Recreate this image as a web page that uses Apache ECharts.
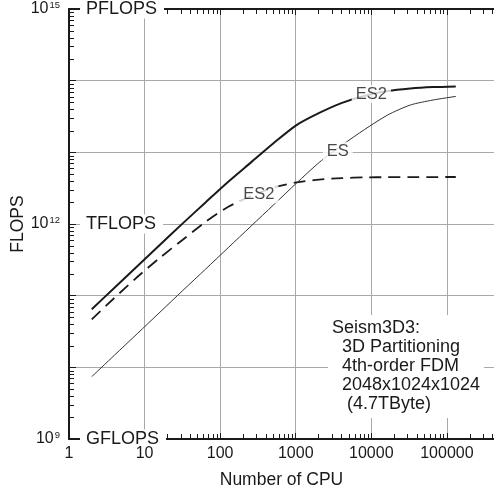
<!DOCTYPE html>
<html>
<head>
<meta charset="utf-8">
<script src="https://cdn.jsdelivr.net/npm/echarts@6/dist/echarts.min.js"></script>
<style>
  html, body { margin: 0; padding: 0; background: #fff; }
  #chart { width: 494px; height: 494px; }
</style>
</head>
<body>
<div id="chart"></div>
<script>
// ---------------- data ----------------
const cpuCounts = [2, 4, 8, 16, 32, 64, 128, 256, 512, 1024, 2048, 4096, 8192, 16384, 32768, 65536, 131072];
const es2Solid  = [6.46e10, 1.29e11, 2.57e11, 5.13e11, 1.02e12, 2.0e12, 3.89e12, 7.24e12, 1.35e13, 2.40e13, 3.55e13, 4.90e13, 6.17e13, 7.16e13, 7.76e13, 8.13e13, 8.32e13];
const es2Dashed = [4.68e10, 9.33e10, 1.82e11, 3.39e11, 6.03e11, 1.07e12, 1.74e12, 2.45e12, 3.24e12, 3.80e12, 4.17e12, 4.37e12, 4.47e12, 4.50e12, 4.52e12, 4.52e12, 4.53e12];
const esThin    = [7.41e9, 1.48e10, 2.95e10, 5.89e10, 1.18e11, 2.34e11, 4.68e11, 9.33e11, 1.86e12, 3.72e12, 7.24e12, 1.26e13, 2.09e13, 3.31e13, 4.57e13, 5.37e13, 6.03e13];

const curveLabels     = ['ES2', 'ES', 'ES2'];
const curveLabelCpu   = [10000, 3600, 326];
const curveLabelFlops = [6.5e13, 1.04e13, 2.6e12];

const xTickLabels = ['1', '10', '100', '1000', '10000', '100000'];
const yTickExponents = [9, 12, 15];
const unitLabels = ['GFLOPS', 'TFLOPS', 'PFLOPS'];
const noteLines = ['Seism3D3:', '  3D Partitioning', '  4th-order FDM', '  2048x1024x1024', '   (4.7TByte)'];

const X_MIN = 1, X_MAX = 4.2e5, Y_MIN = 1e9, Y_MAX = 1e15;
const FONT = '"Liberation Sans", Arial, sans-serif';
const INK = '#1a1a1a';
const GRID = '#a8a8a8';

// minor tick positions (2..9 x 10^k)
const minorMultipliers = [2, 3, 4, 5, 6, 7, 8, 9];
const xMinor = [];
for (let k = 0; k <= 5; k++) for (const m of minorMultipliers) { const v = m * Math.pow(10, k); if (v < X_MAX) xMinor.push([v, Y_MIN]); }
const yMinor = [];
for (let k = 9; k < 15; k++) for (const m of minorMultipliers) yMinor.push([X_MIN, m * Math.pow(10, k)]);

function decadeExp(v) {
  const l = Math.log10(v); const e = Math.round(l);
  return Math.abs(l - e) < 1e-6 ? e : null;
}
const pairs = (ys) => cpuCounts.map((c, i) => [c, ys[i]]);

const chart = echarts.init(document.getElementById('chart'), null, { renderer: 'canvas' });
const option = {
  animation: false,
  backgroundColor: '#fff',
  textStyle: { fontFamily: FONT, color: INK },
  grid: { left: 69, right: 0, top: 9, bottom: 55, outerBoundsMode: 'none', containLabel: false },
  xAxis: [
    {
      type: 'log', min: X_MIN, max: X_MAX, position: 'bottom',
      axisLine: { show: true, onZero: false, lineStyle: { color: INK, width: 2 } },
      axisTick: { show: true, inside: true, length: 6, lineStyle: { color: INK } },
      axisLabel: { show: false },
      splitLine: { show: true, lineStyle: { color: GRID, width: 1 } },
      name: 'Number of CPU', nameLocation: 'middle', nameGap: 32, nameMoveOverlap: false,
      nameTextStyle: { fontSize: 17.5, color: INK, fontFamily: FONT }
    },
    {
      type: 'log', min: X_MIN, max: X_MAX, position: 'top',
      axisLine: { show: true, onZero: false, lineStyle: { color: INK, width: 2 } },
      axisTick: { show: true, inside: true, length: 6, lineStyle: { color: INK } },
      axisLabel: { show: false }, splitLine: { show: false }
    },
    {
      type: 'log', min: X_MIN, max: X_MAX, position: 'bottom', z: 12,
      axisLine: { show: false, onZero: false }, axisTick: { show: false }, splitLine: { show: false },
      axisLabel: {
        margin: 7, fontSize: 16, color: INK, fontFamily: FONT,
        formatter: (v) => { const e = decadeExp(v); return (e !== null && e >= 0 && e < xTickLabels.length) ? xTickLabels[e] : ''; }
      }
    }
  ],
  yAxis: [
    {
      type: 'log', min: Y_MIN, max: Y_MAX, position: 'left',
      axisLine: { show: true, onZero: false, lineStyle: { color: INK, width: 2 } },
      axisTick: { show: true, inside: true, length: 7, lineStyle: { color: INK } },
      axisLabel: {
        margin: 9, fontSize: 16, color: INK, fontFamily: FONT,
        formatter: (v) => { const e = decadeExp(v); return (e !== null && yTickExponents.indexOf(e) >= 0) ? '{b|10}{s|' + e + '}' : ''; },
        rich: {
          b: { fontSize: 16, lineHeight: 18, color: INK, fontFamily: FONT },
          s: { fontSize: 9.5, lineHeight: 8, verticalAlign: 'top', color: INK, fontFamily: FONT, padding: [0, 0, 0, 1] }
        }
      },
      splitLine: { show: true, lineStyle: { color: GRID, width: 1 } },
      name: 'FLOPS', nameLocation: 'middle', nameGap: 42, nameMoveOverlap: false,
      nameTextStyle: { fontSize: 17.5, color: INK, fontFamily: FONT }
    },
    {
      type: 'log', min: Y_MIN, max: Y_MAX, position: 'left', z: 10,
      axisLine: { show: false }, axisTick: { show: false }, splitLine: { show: false },
      axisLabel: {
        inside: true, margin: 11, showMinLabel: true, showMaxLabel: true, fontSize: 18,
        formatter: (v) => { const e = decadeExp(v); const i = yTickExponents.indexOf(e); return i >= 0 ? '{u|' + unitLabels[i] + '}' : ''; },
        rich: { u: { fontSize: 18, lineHeight: 14, color: INK, fontFamily: FONT, backgroundColor: '#fff', padding: [1, 7, 0, 6] } }
      }
    }
  ],
  series: [
    {
      type: 'line', name: 'ES2 sustained', data: pairs(es2Solid), xAxisIndex: 0, yAxisIndex: 0,
      symbol: 'none', smooth: 0.25, lineStyle: { color: INK, width: 2 }, z: 2
    },
    {
      type: 'line', name: 'ES2 dashed', data: pairs(es2Dashed), xAxisIndex: 0, yAxisIndex: 0,
      symbol: 'none', smooth: 0.25, lineStyle: { color: INK, width: 1.8, type: [12, 7] }, z: 2
    },
    {
      type: 'line', name: 'ES', data: pairs(esThin), xAxisIndex: 0, yAxisIndex: 0,
      symbol: 'none', smooth: 0.25, lineStyle: { color: '#333', width: 1 }, z: 2
    },
    {
      type: 'scatter', name: 'labels', xAxisIndex: 0, yAxisIndex: 0, z: 4,
      symbol: 'circle', symbolSize: 0.1, itemStyle: { color: 'rgba(0,0,0,0)' },
      data: curveLabels.map((t, i) => ({ name: t, value: [curveLabelCpu[i], curveLabelFlops[i]] })),
      label: {
        show: true, position: 'inside', formatter: '{b}', fontSize: 16.5, color: INK, fontFamily: FONT,
        backgroundColor: '#fff', padding: [1, 4, 0, 4]
      },
      silent: true
    },
    {
      type: 'custom', name: 'xMinorTicks', xAxisIndex: 0, yAxisIndex: 0, z: 3, silent: true, clip: false,
      data: xMinor,
      renderItem: (params, api) => {
        const v = api.value(0);
        const b = api.coord([v, Y_MIN]); const t = api.coord([v, Y_MAX]);
        const x = Math.round(b[0]) + 0.5;
        return { type: 'group', children: [
          { type: 'line', shape: { x1: x, y1: b[1], x2: x, y2: b[1] - 5 }, style: { stroke: INK, lineWidth: 1 } },
          { type: 'line', shape: { x1: x, y1: t[1], x2: x, y2: t[1] + 5 }, style: { stroke: INK, lineWidth: 1 } }
        ] };
      }
    },
    {
      type: 'custom', name: 'yMinorTicks', xAxisIndex: 0, yAxisIndex: 0, z: 3, silent: true, clip: false,
      data: yMinor,
      renderItem: (params, api) => {
        const p = api.coord([api.value(0), api.value(1)]);
        const y = Math.round(p[1]) + 0.5;
        return { type: 'line', shape: { x1: p[0], y1: y, x2: p[0] + 5, y2: y }, style: { stroke: INK, lineWidth: 1 } };
      }
    }
  ],
  graphic: [
    {
      type: 'text', left: 328, top: 315, z: 10, silent: true,
      style: {
        text: noteLines.join('\n'), font: '18px ' + FONT, fill: INK,
        backgroundColor: '#fff', padding: [4, 4, 4, 4], lineHeight: 19
      }
    }
  ]
};
chart.setOption(option);
</script>
</body>
</html>
